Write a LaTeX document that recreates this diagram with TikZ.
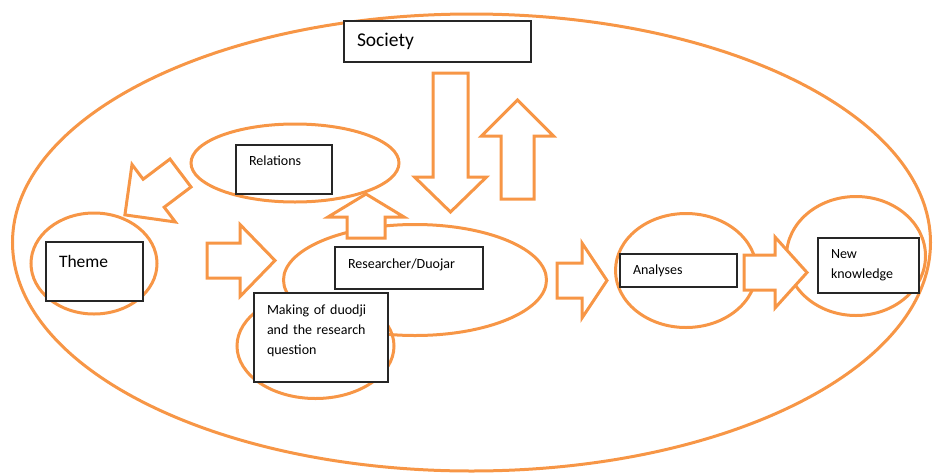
\documentclass[tikz,border=0pt]{standalone}
\usepackage{fontspec}
\setmainfont{Carlito}
\usepackage{tikz}
\usetikzlibrary{shapes.geometric}
\definecolor{DOrange}{HTML}{F79646}
\definecolor{DFrame}{HTML}{262626}
\tikzset{
  pics/blockarrow/.style args={#1/#2/#3/#4}{code={
    \draw[barrow] (0,-#2) -- (#1-#4,-#2) -- (#1-#4,-#3) -- (#1,0)
      -- (#1-#4,#3) -- (#1-#4,#2) -- (0,#2) -- cycle;
  }}
}
\begin{document}
\begin{tikzpicture}[
  x=1pt,y=-1pt,
  ring/.style={draw=DOrange,line width=3pt,ellipse,inner sep=0pt},
  barrow/.style={draw=DOrange,line width=3pt,fill=white},
  box/.style={draw=DFrame,line width=1.3pt,fill=white,align=left,
    inner xsep=13pt,inner ysep=0pt,font=\fontsize{14}{20}\selectfont}
]
  \useasboundingbox (0,0) rectangle (934,472);
  \node[ring,minimum width=918pt,minimum height=457pt] (world) at (471.5,242.5) {};
  \node[ring,minimum width=126pt,minimum height=101pt] (themering) at (94,263.5) {};
  \node[ring,minimum width=208pt,minimum height=78pt] (relring) at (295,163) {};
  \node[ring,minimum width=263pt,minimum height=111pt] (resring) at (415,280) {};
  \node[ring,minimum width=157pt,minimum height=105pt] (makering) at (315.5,346) {};
  \node[ring,minimum width=141pt,minimum height=114pt] (anaring) at (686,270.5) {};
  \node[ring,minimum width=139pt,minimum height=119pt] (newring) at (856,256) {};

  \pic[rotate=-90] at (450.5,73) {blockarrow=139/17.5/36/35};
  \pic[rotate=90] at (517.5,199) {blockarrow=99/16.5/36/36};
  \pic[rotate=217] at (180.5,173) {blockarrow=69.6/17.5/36/36};
  \pic at (207,260.5) {blockarrow=68/17.5/36/35};
  \pic at (557,280.5) {blockarrow=50/17.5/37.5/25};
  \pic at (744,272.5) {blockarrow=63/17.5/35.5/32};
  \pic[rotate=90] at (366,238) {blockarrow=44/19/38/23};

  \node[box,text width=161pt,minimum height=41pt,font=\fontsize{19.5}{24}\selectfont] (society) at (437.5,41.5) {Society};
  \node[box,text width=71pt,minimum height=59pt,text depth=21pt,font=\fontsize{17.5}{21}\selectfont] (theme) at (94.5,271.5) {Theme};
  \node[box,text width=70pt,minimum height=49pt,text depth=17pt] (relations) at (284,169.5) {Relations};
  \node[box,text width=122pt,minimum height=42pt,text depth=8.5pt] (researcher) at (409,268) {Researcher/Duojar};
  \node[box,text width=108pt,minimum height=89pt,text depth=55pt] (making) at (321,337.5) {Making of duodji\\and the research\\question};
  \node[box,text width=91pt,minimum height=33pt] (analyses) at (678.5,270.5) {Analyses};
  \node[box,text width=75pt,minimum height=55pt] (newknow) at (868.5,265.5) {New\\knowledge};
\end{tikzpicture}
\end{document}
